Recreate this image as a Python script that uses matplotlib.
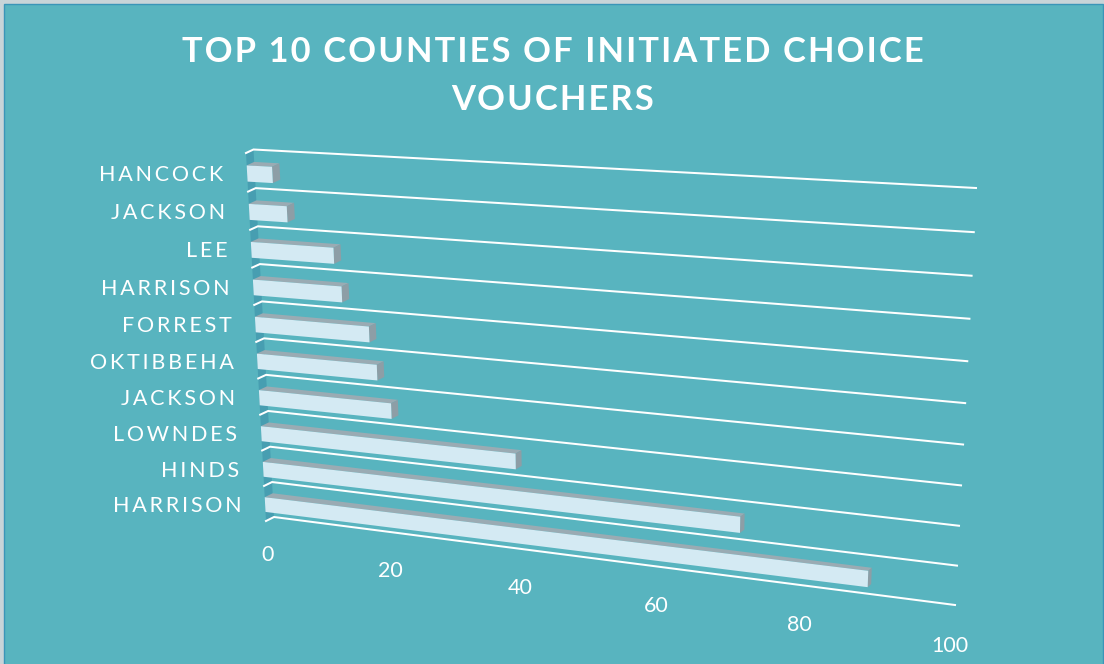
import numpy as np
import matplotlib
matplotlib.use("Agg")
import matplotlib.pyplot as plt
from matplotlib.patches import Polygon, Rectangle

# bottom row first, same order as the chart's category axis
counties = ["HARRISON", "HINDS", "LOWNDES", "JACKSON", "OKTIBBEHA",
            "FORREST", "HARRISON", "LEE", "JACKSON", "HANCOCK"]
vouchers = [89, 71.7, 39.7, 21, 19, 18, 14, 13, 6, 4]
value_ticks = [0, 20, 40, 60, 80, 100]
title_lines = ["TOP 10 COUNTIES OF INITIATED CHOICE", "VOUCHERS"]

plt.rcParams["font.family"] = ["Lato", "DejaVu Sans"]

BG = "#58B4BF"
FRONT = "#D4EAF3"
SHADE = "#9AABB3"
WALL = "#479EB1"


def homography(corners):
    # corners are pixels of (v=0,c=0), (v=100,c=0), (v=0,c=10), (v=100,c=10)
    src = [(0, 0), (100, 0), (0, 10), (100, 10)]
    a, b = [], []
    for (u, w), (x, y) in zip(src, corners):
        a.append([u, w, 1, 0, 0, 0, -u * x, -w * x])
        a.append([0, 0, 0, u, w, 1, -u * y, -w * y])
        b += [x, y]
    return np.append(np.linalg.solve(np.array(a, float), np.array(b, float)), 1).reshape(3, 3)


H_front = homography([(266, 521), (952, 608), (246, 153), (972, 191)])
H_back = homography([(274, 517), (955, 605), (253.5, 149.5), (976, 188)])


def project(v, c, z=0.0):
    # z=0 is the front plane of the plot box, z=1 the back wall
    pts = []
    for H in (H_front, H_back):
        p = H @ np.array([v, c, 1.0])
        pts.append(p[:2] / p[2])
    return pts[0] * (1 - z) + pts[1] * z


fig = plt.figure(figsize=(11.04, 6.64), dpi=100, facecolor="#C8D4D8")
ax = fig.add_axes([0, 0, 1, 1])
ax.set_xlim(0, 1104)
ax.set_ylim(664, 0)
ax.axis("off")
ax.add_patch(Rectangle((3.5, 3.5), 1099.5, 670, fc=BG, ec="#3A95B8", lw=1))

# side wall
ax.add_patch(Polygon([project(0, 0, 0), project(0, 10, 0), project(0, 10, 1), project(0, 0, 1)],
                     fc=WALL, ec="none", zorder=1))

# gridlines on back wall with the short stub on the side wall
for c in range(11):
    line = np.array([project(0, c, 0), project(0, c, 1), project(100, c, 1)])
    ax.plot(line[:, 0], line[:, 1], color="white", lw=1.45, zorder=2, solid_joinstyle="miter")

# bars, back row first
bar_lo, bar_hi = 0.26, 0.68
for i in range(len(vouchers) - 1, -1, -1):
    v = vouchers[i]
    lo, hi = i + bar_lo, i + bar_hi
    ax.add_patch(Polygon([project(0, hi, 0), project(v, hi, 0), project(v, hi, 1), project(0, hi, 1)],
                         fc=SHADE, ec="none", zorder=3))
    ax.add_patch(Polygon([project(v, lo, 0), project(v, hi, 0), project(v, hi, 1), project(v, lo, 1)],
                         fc="#8D9EA6", ec="none", zorder=3))
    ax.add_patch(Polygon([project(0, lo, 0), project(v, lo, 0), project(v, hi, 0), project(0, hi, 0)],
                         fc=FRONT, ec="none", zorder=4))

for i, name in enumerate(counties):
    x, y = project(0, i + 0.43, 0)
    ax.text(x - 24, y, "\u2009".join(name), ha="right", va="center", color="white", fontsize=15.5)

for t in value_ticks:
    x, y = project(t, -0.9, 0)
    ax.text(x, y + 2.5, str(t), ha="center", va="center", color="white", fontsize=15.5)

for line, y in zip(title_lines, [52, 100]):
    ax.text(553, y, "\u200a".join(line), ha="center", va="center", color="white",
            fontsize=24.8, fontweight="bold")

fig.savefig("out.png", dpi=100, facecolor=fig.get_facecolor())
